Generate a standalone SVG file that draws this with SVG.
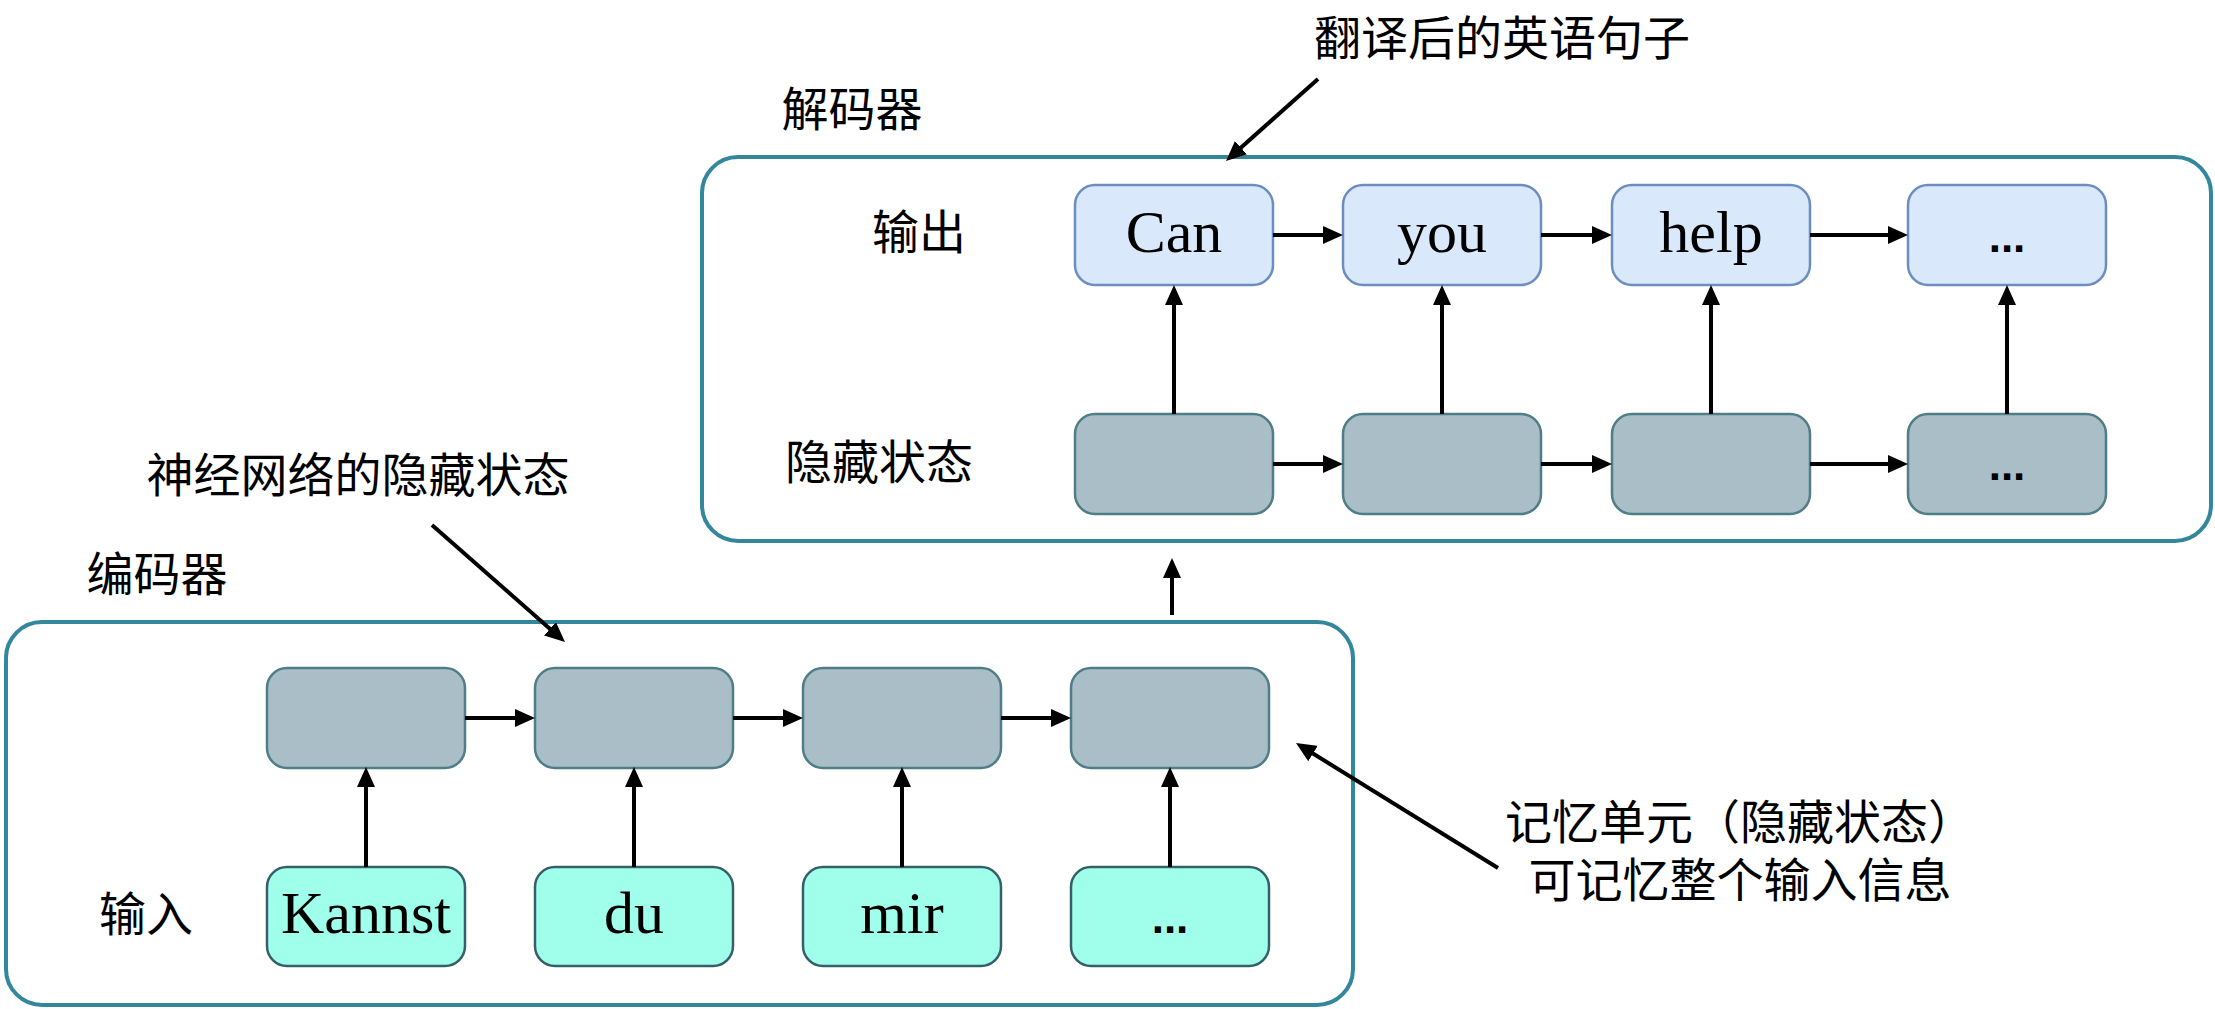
<svg xmlns="http://www.w3.org/2000/svg" width="2215" height="1009" viewBox="0 0 2215 1009">
<defs>
<style>
.container{fill:#ffffff;stroke:#33879C;stroke-width:4}
.hid{fill:#AABEC8;stroke:#4F7E86;stroke-width:2.5}
.inp{fill:#9FFFEA;stroke:#35606A;stroke-width:2.5}
.out{fill:#DAE8FC;stroke:#6C8EBF;stroke-width:2.5}
.cjk{font-family:"Liberation Sans","Noto Sans CJK SC",sans-serif;font-size:47px;fill:#000}
.word{font-family:"Liberation Serif","Times New Roman",serif;font-size:60px;fill:#000;text-anchor:middle}
.dots{font-family:"Liberation Sans",Arial,sans-serif;font-size:44px;font-weight:bold;fill:#000;text-anchor:middle}
.conn line{stroke:#000;stroke-width:4;marker-end:url(#ah)}
</style>
<marker id="ah" markerUnits="userSpaceOnUse" markerWidth="20" markerHeight="18" refX="10" refY="9" orient="auto" viewBox="0 0 20 18">
<path d="M0,0 L20,9 L0,18 z" fill="#000"/>
</marker>
</defs>

<g id="decoder">
<rect class="container" x="702" y="157" width="1509" height="384" rx="36"/>
<text class="cjk" x="852" y="126" text-anchor="middle">解码器</text>
<text class="cjk" x="919" y="249" text-anchor="middle">输出</text>
<text class="cjk" x="879" y="479" text-anchor="middle">隐藏状态</text>
</g>

<g id="encoder">
<rect class="container" x="6" y="622" width="1347" height="383" rx="36"/>
<text class="cjk" x="157" y="591" text-anchor="middle">编码器</text>
<text class="cjk" x="146" y="931" text-anchor="middle">输入</text>
</g>

<g id="out1"><rect class="out" x="1075" y="185" width="198" height="100" rx="20"/><text class="word" x="1174" y="252">Can</text></g>
<g id="out2"><rect class="out" x="1343" y="185" width="198" height="100" rx="20"/><text class="word" x="1442" y="252">you</text></g>
<g id="out3"><rect class="out" x="1612" y="185" width="198" height="100" rx="20"/><text class="word" x="1711" y="252">help</text></g>
<g id="out4"><rect class="out" x="1908" y="185" width="198" height="100" rx="20"/><text class="dots" x="2007" y="252">...</text></g>

<g id="dhid1"><rect class="hid" x="1075" y="414" width="198" height="100" rx="20"/></g>
<g id="dhid2"><rect class="hid" x="1343" y="414" width="198" height="100" rx="20"/></g>
<g id="dhid3"><rect class="hid" x="1612" y="414" width="198" height="100" rx="20"/></g>
<g id="dhid4"><rect class="hid" x="1908" y="414" width="198" height="100" rx="20"/><text class="dots" x="2007" y="480">...</text></g>

<g id="ehid1"><rect class="hid" x="267" y="668" width="198" height="100" rx="20"/></g>
<g id="ehid2"><rect class="hid" x="535" y="668" width="198" height="100" rx="20"/></g>
<g id="ehid3"><rect class="hid" x="803" y="668" width="198" height="100" rx="20"/></g>
<g id="ehid4"><rect class="hid" x="1071" y="668" width="198" height="100" rx="20"/></g>

<g id="in1"><rect class="inp" x="267" y="867" width="198" height="99" rx="20"/><text class="word" x="366" y="933">Kannst</text></g>
<g id="in2"><rect class="inp" x="535" y="867" width="198" height="99" rx="20"/><text class="word" x="634" y="933">du</text></g>
<g id="in3"><rect class="inp" x="803" y="867" width="198" height="99" rx="20"/><text class="word" x="902" y="933">mir</text></g>
<g id="in4"><rect class="inp" x="1071" y="867" width="198" height="99" rx="20"/><text class="dots" x="1170" y="933">...</text></g>

<g id="annotations">
<text class="cjk" x="1502" y="55" text-anchor="middle">翻译后的英语句子</text>
<text class="cjk" x="358" y="492" text-anchor="middle">神经网络的隐藏状态</text>
<text class="cjk" x="1740" y="839" text-anchor="middle">记忆单元（隐藏状态）</text>
<text class="cjk" x="1740" y="897" text-anchor="middle">可记忆整个输入信息</text>
</g>

<g id="connectors" class="conn">
<line x1="465" y1="718" x2="525" y2="718"/>
<line x1="733" y1="718" x2="793" y2="718"/>
<line x1="1001" y1="718" x2="1061" y2="718"/>
<line x1="366" y1="867" x2="366" y2="777"/>
<line x1="634" y1="867" x2="634" y2="777"/>
<line x1="902" y1="867" x2="902" y2="777"/>
<line x1="1170" y1="867" x2="1170" y2="777"/>
<line x1="1172" y1="615" x2="1172" y2="568"/>
<line x1="1174" y1="414" x2="1174" y2="295"/>
<line x1="1442" y1="414" x2="1442" y2="295"/>
<line x1="1711" y1="414" x2="1711" y2="295"/>
<line x1="2007" y1="414" x2="2007" y2="295"/>
<line x1="1273" y1="235" x2="1333" y2="235"/>
<line x1="1541" y1="235" x2="1602" y2="235"/>
<line x1="1810" y1="235" x2="1898" y2="235"/>
<line x1="1273" y1="464" x2="1333" y2="464"/>
<line x1="1541" y1="464" x2="1602" y2="464"/>
<line x1="1810" y1="464" x2="1898" y2="464"/>
<line x1="432" y1="525" x2="557.5" y2="635.4"/>
<line x1="1318" y1="79" x2="1233.5" y2="154.3"/>
<line x1="1498" y1="868" x2="1304.5" y2="748.3"/>
</g>
</svg>
